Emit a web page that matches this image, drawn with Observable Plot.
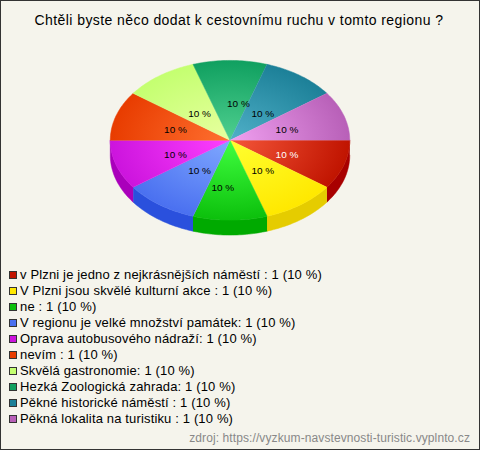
<!DOCTYPE html>
<html lang="cs"><head><meta charset="utf-8">
<script src="https://cdn.jsdelivr.net/npm/d3@7"></script>
<script src="https://cdn.jsdelivr.net/npm/@observablehq/plot@0.6"></script>
<style>
html,body{margin:0;padding:0;background:#f5f4ec}
#card{position:relative;box-sizing:border-box;width:480px;height:450px;background:#f5f4ec;border:1px solid #333;overflow:hidden;font-family:"Liberation Sans",Arial,sans-serif;color:#000}
#title{position:absolute;left:-1px;top:0;width:478px;text-align:center;font-size:14px;line-height:16px;padding-top:11px;letter-spacing:.42px}
#plot{position:absolute;left:-1px;top:39px}
#plot svg{display:block;background:transparent}
#legend{position:absolute;left:8px;top:266px;font-size:13px;line-height:16px}
#legend .row{display:flex;align-items:center;height:16px;white-space:nowrap;letter-spacing:.15px}
#legend i{display:block;box-sizing:border-box;width:8px;height:8px;border:1px solid #333;margin-right:3px}
#source{position:absolute;right:9px;top:430px;font-size:12px;line-height:15px;color:#888;letter-spacing:.1px}
</style></head>
<body><div id="card">
<div id="title"></div><div id="plot"></div><div id="legend"></div><div id="source"></div>
</div>
<script>
const chartTitle = "Chtěli byste něco dodat k cestovnímu ruchu v tomto regionu ?";
const sourceText = "zdroj: https://vyzkum-navstevnosti-turistic.vyplnto.cz";
const categories = ["v Plzni je jedno z nejkrásnějších náměstí : ","V Plzni jsou skvělé kulturní akce : ","ne : ","V regionu je velké množství památek: ","Oprava autobusového nádraží: ","nevím : ","Skvělá gastronomie: ","Hezká Zoologická zahrada: ","Pěkné historické náměstí : ","Pěkná lokalita na turistiku : "];
const counts = [1,1,1,1,1,1,1,1,1,1];
const percents = [10,10,10,10,10,10,10,10,10,10];
const innerColors = ["#f5573a","#ffff30","#40ff40","#80a8ff","#ff40ff","#ff7030","#e8ffa0","#50d090","#50b0c8","#f0a0f0"];
const outerColors = ["#c01400","#ffe800","#0cc00c","#4a70f0","#cc14dd","#e83c00","#c4ff70","#10a060","#1c8098","#b860b8"];
const sideColors  = ["#a80000","#e5cc00","#00aa00","#2a50dd","#aa00bb","#e83c00","#c4ff70","#10a060","#1c8098","#b860b8"];
const legendColors= ["#c01400","#ffe800","#0cc00c","#4a70f0","#cc14dd","#e83c00","#c4ff70","#10a060","#1c8098","#b860b8"];
const labelColors = ["#fff","#000","#000","#000","#000","#000","#000","#000","#000","#000"];

document.getElementById("title").textContent = chartTitle;
document.getElementById("source").textContent = sourceText;
const legend = document.getElementById("legend");
categories.forEach((c,i)=>{
  const r=document.createElement("div");r.className="row";
  const s=document.createElement("i");s.style.background=legendColors[i];
  const t=document.createElement("span");t.textContent=`${c}${counts[i]} (${percents[i]} %)`;
  r.append(s,t);legend.append(r);
});

const wallDepth = 0.1875;          // wall height in y-scale units
const labelNudge = [[0,.03],[-.02,-.02],[-.06,.09],[.04,-.02],[.02,.03],[.02,.02],[.04,.07],[.07,.04],[-.02,.07],[0,.02]];
const arcs = d3.pie().sort(null).startAngle(0).endAngle(2*Math.PI)(counts);
const arcPts = (a0,a1,n=32)=>d3.range(n+1).map(k=>{const a=a0+(a1-a0)*k/n;return [Math.cos(a),Math.sin(a)];});

const tops=[],walls=[],labels=[];
arcs.forEach((arc,i)=>{
  const a0=arc.startAngle,a1=arc.endAngle;
  [[0,0],...arcPts(a0,a1)].forEach(([x,y])=>tops.push({i,x,y}));
  const w0=Math.max(a0,0),w1=Math.min(a1,Math.PI);
  if(w1>w0){
    const p=arcPts(w0,w1);
    [...p.map(([x,y])=>({i,x,y})),...p.reverse().map(([x,y])=>({i,x,y:y+wallDepth}))].forEach(d=>walls.push(d));
  }
  const mid=(a0+a1)/2;
  labels.push({i,x:.5*Math.cos(mid)+labelNudge[i][0],y:.5*Math.sin(mid)+labelNudge[i][1],text:`${percents[i]} %`});
});

function gradients(index,{x,y}){
  const svg=d3.create("svg:g");
  const defs=svg.append("defs");
  const cx=x(0),cy=y(0),rx=x(1)-x(0),ry=y(1)-y(0);
  categories.forEach((_,i)=>{
    const g=defs.append("radialGradient").attr("id",`slice${i}`).attr("gradientUnits","userSpaceOnUse")
      .attr("cx",0).attr("cy",0).attr("r",1).attr("gradientTransform",`translate(${cx},${cy}) scale(${rx},${ry})`);
    g.append("stop").attr("offset","0%").attr("stop-color",innerColors[i]);
    g.append("stop").attr("offset","100%").attr("stop-color",outerColors[i]);
  });
  return svg.node();
}

const chart = Plot.plot({
  width:480,height:210,
  marginLeft:110,marginRight:130,marginTop:20,marginBottom:30,
  x:{domain:[-1,1],axis:null},
  y:{domain:[-1,1],reverse:true,axis:null},
  color:{type:"identity"},
  style:{background:"transparent"},
  marks:[
    gradients,
    Plot.line(walls,{x:"x",y:"y",z:"i",curve:"linear",fill:d=>sideColors[d.i],stroke:d=>sideColors[d.i],strokeWidth:.5}),
    Plot.line(tops,{x:"x",y:"y",z:"i",curve:"linear",fill:d=>`url(#slice${d.i})`,stroke:d=>`url(#slice${d.i})`,strokeWidth:.5}),
    Plot.text(labels,{x:"x",y:"y",text:"text",fill:d=>labelColors[d.i],fontSize:10,fontFamily:"Liberation Sans, Arial, sans-serif"})
  ]
});
document.getElementById("plot").append(chart);
</script>
</body></html>
